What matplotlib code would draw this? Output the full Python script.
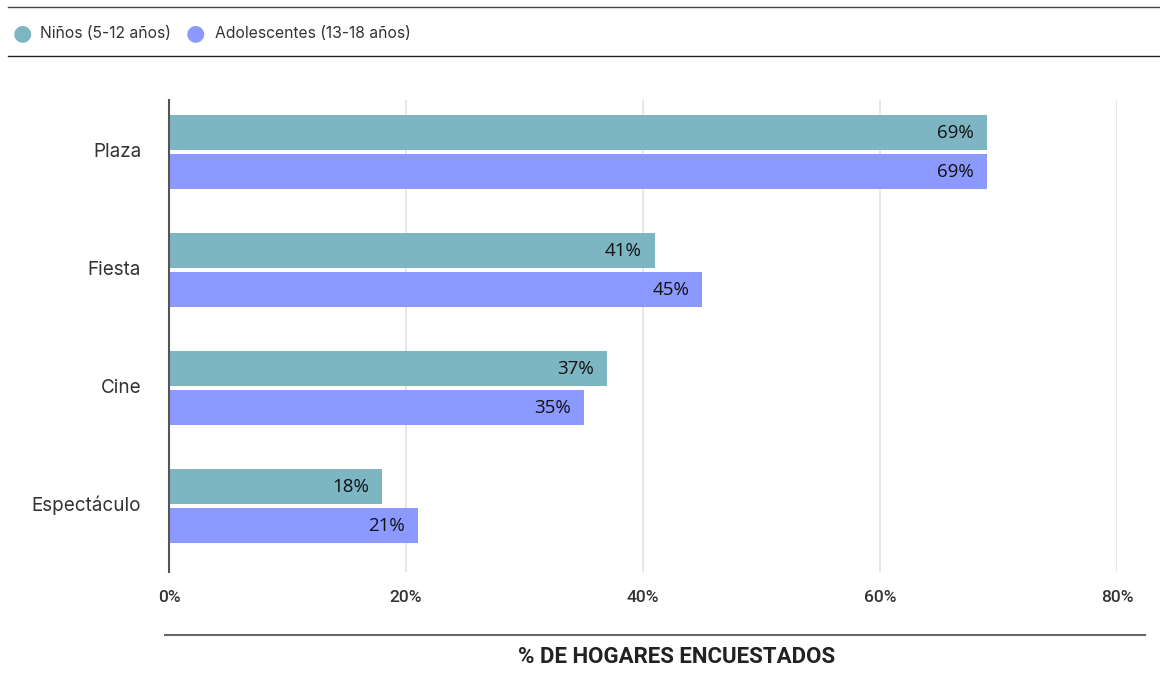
import numpy as np
import matplotlib.pyplot as plt
from matplotlib.lines import Line2D

categorias = ["Plaza", "Fiesta", "Cine", "Espectáculo"]
ninos = [69, 41, 37, 18]
adolescentes = [69, 45, 35, 21]
ticks = [0, 20, 40, 60, 80]
series_nombres = ["Niños (5-12 años)", "Adolescentes (13-18 años)"]

color_ninos = "#7db5c3"
color_adol = "#8c9aff"

fig = plt.figure(figsize=(11.6, 6.79), dpi=100)
ax = fig.add_axes([169 / 1160, 1 - 572 / 679, 948 / 1160, 472 / 679])

y = np.arange(len(categorias))
h = 0.297
off = 0.165
b1 = ax.barh(y - off, ninos, height=h, color=color_ninos, zorder=2)
b2 = ax.barh(y + off, adolescentes, height=h, color=color_adol, zorder=2)

for bars, vals in [(b1, ninos), (b2, adolescentes)]:
    for bar, v in zip(bars, vals):
        ax.text(v - 1.1, bar.get_y() + bar.get_height() / 2, f"{v}%",
                ha="right", va="center", fontsize=13.5, family="Open Sans",
                color="#111111", zorder=3)

ax.set_xlim(0, 80)
ax.set_ylim(3.559, -0.441)
ax.set_xticks(ticks)
ax.set_xticklabels([f"{t}%" for t in ticks], fontsize=12.5, family="Roboto",
                   fontweight="medium", color="#333333")
ax.set_yticks(y - 0.02)
ax.set_yticklabels(categorias, fontsize=13.6, family="Inter", color="#333333")
ax.tick_params(axis="both", length=0)
ax.tick_params(axis="x", pad=13)
ax.tick_params(axis="y", pad=20)
ax.grid(axis="x", color="#e3e3e3", linewidth=1.2, zorder=0)
for s in ["top", "right", "bottom"]:
    ax.spines[s].set_visible(False)
ax.spines["left"].set_color("#555555")
ax.spines["left"].set_linewidth(1.5)
ax.spines["left"].set_zorder(4)

# lineas de cabecera y pie
fig.add_artist(Line2D([8 / 1160, 1], [1 - 7 / 679] * 2, color="#444444", lw=1))
fig.add_artist(Line2D([8 / 1160, 1], [1 - 56 / 679] * 2, color="#222222", lw=1))
fig.add_artist(Line2D([165 / 1160, 1145 / 1160], [1 - 635 / 679] * 2,
                      color="#666666", lw=1.5))

# leyenda
for x0, xt, c, nombre in [(22, 40, color_ninos, series_nombres[0]),
                          (195, 215, color_adol, series_nombres[1])]:
    fig.text(x0 / 1160, 1 - 33 / 679, "●", color=c, fontsize=16,
             ha="center", va="center", family="DejaVu Sans")
    fig.text(xt / 1160, 1 - 33 / 679, nombre, fontsize=11.3, family="Inter",
             color="#333333", ha="left", va="center")

fig.text(677 / 1160, 1 - 657 / 679, "% DE HOGARES ENCUESTADOS", fontsize=16,
         family="Roboto", fontweight="bold", color="#222222",
         ha="center", va="center")

fig.savefig("out.png", dpi=100)
